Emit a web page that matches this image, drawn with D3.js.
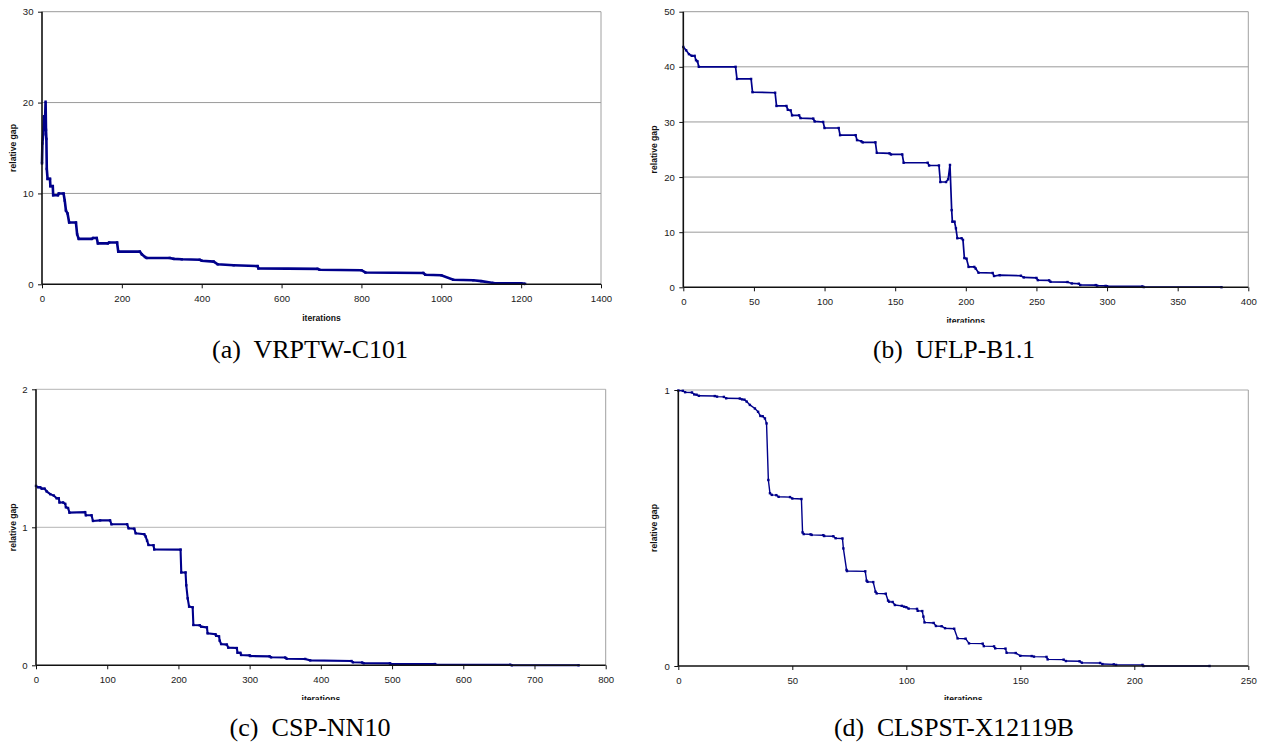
<!DOCTYPE html>
<html>
<head>
<meta charset="utf-8">
<script src="https://cdn.jsdelivr.net/npm/d3@7"></script>
<style>
  html, body { margin: 0; padding: 0; background: #fff; }
  svg { display: block; }
</style>
</head>
<body>
<svg id="chart" width="1270" height="744"></svg>
<script>
// ---------------- DATA ----------------
// (a) VRPTW-C101
const iterA = [0,1,3,5,7,9,10,11,12,14,20,21,27,28,40,42,54,57,60,64,68,85,88,92,125,128,137,140,165,168,188,191,245,250,258,262,320,330,350,395,400,430,440,480,540,542,690,695,800,810,955,960,1000,1030,1080,1100,1130,1200,1210];
const gapA  = [13.3,15.5,16.5,18.5,17,20.1,17,16,12.7,11.6,11.6,10.8,10.8,9.8,9.8,10,10,9.2,8.1,7.8,6.8,6.8,5.5,5.0,5.0,5.1,5.1,4.5,4.5,4.6,4.6,3.6,3.6,3.3,3.0,2.9,2.9,2.8,2.75,2.7,2.6,2.5,2.2,2.1,2.0,1.75,1.7,1.6,1.55,1.3,1.25,1.05,1.0,0.5,0.45,0.35,0.15,0.1,0.05];
const xTicksA = [0,200,400,600,800,1000,1200,1400];
const yTicksA = [0,10,20,30];

// (b) UFLP-B1.1
const iterB = [0,2,4,6,8,9,10,11,37,38,48,49,65,66,73,74,76,77,82,83,92,93,99,100,110,111,122,123,126,127,136,137,146,147,155,156,173,174,181,182,186,187.5,188.8,190,190.5,192,193,194,197,198,199,200.5,202,206,207,209,219,220,224,239,241,250,251,259,260,272,275,280,281,292,293,299,300,325,326,381];
const gapB  = [43.6,43,42.3,42,42,41.2,41,40,40,37.8,37.8,35.4,35.3,32.9,32.9,32.2,32.1,31.2,31.2,30.7,30.6,30.1,30.0,28.9,28.9,27.6,27.6,26.7,26.5,26.3,26.3,24.4,24.3,24.1,24.1,22.6,22.6,22.1,22.1,19.1,19.1,19.6,22.2,14,11.9,11.9,10.7,8.9,8.9,8.6,5.3,5.2,3.7,3.7,3.4,2.65,2.6,2.05,2.2,2.1,1.8,1.7,1.3,1.25,1.0,0.95,0.7,0.65,0.42,0.4,0.3,0.25,0.2,0.15,0.05,0.02];
const xTicksB = [0,50,100,150,200,250,300,350,400];
const yTicksB = [0,10,20,30,40,50];

// (c) CSP-NN10
const iterC = [0,3,6,8,12,15,20,25,29,32,33,38,41,42,45,47,69,70,78,80,90,104,106,128,130,138,140,152,154,156,158,165,166,203,204,210,211,213,215,220,221,230,232,240,241,252,253,257,258,260,268,270,282,283,287,288,300,301,328,330,350,352,378,385,443,445,458,460,497,498,560,561,666,668,762];
const gapC  = [1.30,1.29,1.29,1.28,1.28,1.26,1.24,1.23,1.21,1.21,1.18,1.18,1.17,1.145,1.14,1.106,1.11,1.087,1.087,1.046,1.05,1.05,1.022,1.022,0.993,0.99,0.957,0.95,0.933,0.903,0.872,0.87,0.84,0.838,0.673,0.673,0.58,0.485,0.425,0.42,0.292,0.29,0.28,0.275,0.232,0.225,0.214,0.21,0.178,0.154,0.15,0.128,0.125,0.091,0.09,0.075,0.072,0.067,0.065,0.058,0.056,0.048,0.046,0.036,0.031,0.022,0.02,0.015,0.014,0.01,0.009,0.005,0.004,0.0,0.0];
const xTicksC = [0,100,200,300,400,500,600,700,800];
const yTicksC = [0,1,2];

// (d) CLSPST-X12119B
const iterD = [0,2,3,6,7,8,9,16,17,20,21,27,28,29,30,31.4,33.6,35,36,37,38,38.7,39.5,40.2,41,43,44,49,50,54,54.5,55,58,58.5,63.6,64,68,69,72,72.4,73.8,74,82,82.6,83,85.5,86.5,87,91,92,92.5,94,95,98,99,100,101,104.7,105,107,107.5,108,112,113,115.5,117,121,122.5,126,127.5,133.5,134,138.5,139,143.5,144,148,150,155,156,161.5,162,169,170,176,177,185,186,191,192,203.6,204,233];
const gapD  = [0.998,0.997,0.992,0.991,0.984,0.983,0.979,0.978,0.976,0.975,0.970,0.969,0.966,0.965,0.958,0.946,0.933,0.921,0.906,0.905,0.897,0.879,0.674,0.626,0.62,0.619,0.613,0.612,0.607,0.605,0.484,0.478,0.477,0.475,0.474,0.471,0.47,0.463,0.462,0.426,0.348,0.344,0.343,0.309,0.305,0.304,0.269,0.263,0.262,0.237,0.233,0.232,0.221,0.218,0.215,0.213,0.208,0.207,0.2,0.199,0.179,0.158,0.156,0.145,0.144,0.137,0.135,0.1,0.099,0.082,0.081,0.072,0.071,0.064,0.063,0.048,0.047,0.037,0.036,0.034,0.033,0.024,0.023,0.018,0.017,0.012,0.011,0.007,0.006,0.004,0.004,0,0];
const xTicksD = [0,50,100,150,200,250];
const yTicksD = [0,1];

const captions = ["(a)  VRPTW-C101", "(b)  UFLP-B1.1", "(c)  CSP-NN10", "(d)  CLSPST-X12119B"];
const xLabel = "iterations";
const yLabel = "relative gap";

// ---------------- LAYOUT ----------------
const layout = [
  {it: iterA, gap: gapA, xt: xTicksA, yt: yTicksA, box: {l: 42, r: 601, t: 11.7, b: 284.3}, yLabX: 13, capX: 310, capY: 357.5, capW: 196, clipY: 400, lw: 2.6, grid: "#9a9a9a"},
  {it: iterB, gap: gapB, xt: xTicksB, yt: yTicksB, box: {l: 683.3, r: 1248.3, t: 11.7, b: 287.3}, yLabX: 654, capX: 954, capY: 357.5, capW: 162, clipY: 322.8, lw: 1.7, grid: "#9a9a9a"},
  {it: iterC, gap: gapC, xt: xTicksC, yt: yTicksC, box: {l: 36, r: 605.7, t: 389.3, b: 665.3}, yLabX: 13, capX: 310, capY: 735.5, capW: 161, clipY: 700, lw: 2.1, grid: "#b4b4b4"},
  {it: iterD, gap: gapD, xt: xTicksD, yt: yTicksD, box: {l: 678.3, r: 1248.3, t: 390, b: 666}, yLabX: 654, capX: 954, capY: 735.5, capW: 240, clipY: 700, lw: 1.4, grid: "#a8a8a8"}
];

const svg = d3.select("#chart");
const defs = svg.append("defs");

layout.forEach((p, i) => {
  const xDom = [p.xt[0], p.xt[p.xt.length - 1]];
  const yDom = [p.yt[0], p.yt[p.yt.length - 1]];
  const x = d3.scaleLinear().domain(xDom).range([p.box.l, p.box.r]);
  const y = d3.scaleLinear().domain(yDom).range([p.box.b, p.box.t]);
  const g = svg.append("g");

  // gridlines (horizontal, non-zero ticks)
  g.selectAll("line.grid").data(p.yt.filter(v => v !== yDom[0])).enter()
    .append("line")
    .attr("x1", p.box.l).attr("x2", p.box.r)
    .attr("y1", d => y(d)).attr("y2", d => y(d))
    .attr("stroke", p.grid).attr("stroke-width", 1);
  // right border
  g.append("line")
    .attr("x1", p.box.r).attr("x2", p.box.r)
    .attr("y1", p.box.t).attr("y2", p.box.b)
    .attr("stroke", "#a0a0a0").attr("stroke-width", 1);

  // data line
  const pts = p.it.map((v, k) => [v, p.gap[k]]);
  const line = d3.line().x(d => x(d[0])).y(d => y(d[1])).curve(d3.curveLinear);
  g.append("path").datum(pts)
    .attr("d", line)
    .attr("fill", "none")
    .attr("stroke", "#00008b")
    .attr("stroke-width", p.lw)
    .attr("stroke-linejoin", "miter");
  g.selectAll("rect.mk").data(pts).enter().append("rect")
    .attr("x", d => x(d[0]) - 1.2).attr("y", d => y(d[1]) - 1.2)
    .attr("width", 2.4).attr("height", 2.4)
    .attr("fill", "#00008b");

  // axes
  const axY = d3.axisLeft(y).tickValues(p.yt).tickSize(4).tickPadding(4.5).tickFormat(d3.format("d"));
  const axX = d3.axisBottom(x).tickValues(p.xt).tickSize(4).tickPadding(7).tickFormat(d3.format("d"));
  const gy = g.append("g").attr("transform", `translate(${p.box.l},0)`).call(axY);
  const gx = g.append("g").attr("transform", `translate(0,${p.box.b})`).call(axX);
  [gx, gy].forEach(a => {
    a.select(".domain").attr("stroke", "#111").attr("stroke-width", 1.6);
    a.selectAll(".tick line").attr("stroke", "#111").attr("stroke-width", 1);
    a.selectAll(".tick text")
      .attr("font-family", "'Liberation Sans', Arial, sans-serif")
      .attr("font-size", "9.6px").attr("fill", "#1a1a1a");
  });
  // restore the domain path without outer tick stubs
  gy.select(".domain").attr("d", `M0,${p.box.b}V${p.box.t}`);
  gx.select(".domain").attr("d", `M${p.box.l},0H${p.box.r}`);

  // axis titles
  const cid = "clip" + i;
  defs.append("clipPath").attr("id", cid)
    .append("rect").attr("x", 0).attr("y", 0).attr("width", 1270).attr("height", p.clipY);
  g.append("text")
    .attr("clip-path", `url(#${cid})`)
    .attr("x", (p.box.l + p.box.r) / 2)
    .attr("y", p.box.b + 36.2)
    .attr("text-anchor", "middle")
    .attr("font-family", "'Liberation Sans', Arial, sans-serif")
    .attr("font-weight", "bold")
    .attr("font-size", "8.6px")
    .attr("fill", "#111")
    .text(xLabel);
  const cy = (p.box.t + p.box.b) / 2;
  g.append("text")
    .attr("transform", `translate(${p.yLabX + 3},${cy}) rotate(-90)`)
    .attr("text-anchor", "middle")
    .attr("font-family", "'Liberation Sans', Arial, sans-serif")
    .attr("font-weight", "bold")
    .attr("font-size", "8.6px")
    .attr("fill", "#111")
    .text(yLabel);

  // caption
  svg.append("text")
    .attr("x", p.capX - p.capW / 2)
    .attr("y", p.capY)
    .attr("font-family", "'Liberation Serif', 'Times New Roman', serif")
    .attr("font-size", "25px")
    .attr("fill", "#000")
    .attr("textLength", p.capW)
    .attr("lengthAdjust", "spacingAndGlyphs")
    .attr("xml:space", "preserve")
    .text(captions[i]);
});
</script>
</body>
</html>
